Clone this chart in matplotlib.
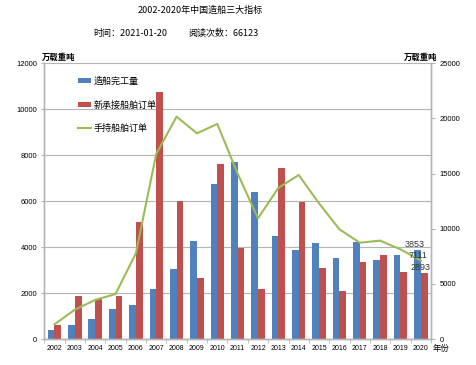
import matplotlib.pyplot as plt
import numpy as np

plt.rcParams['font.family'] = ['Liberation Sans', 'Noto Sans CJK SC', 'DejaVu Sans']

years = [str(y) for y in range(2002, 2021)]
completed = [380, 610, 860, 1290, 1480, 2160, 3030, 4280, 6750, 7690,
             6420, 4480, 3870, 4170, 3510, 4240, 3440, 3660, 3853]
new_orders = [625, 1870, 1730, 1860, 5080, 10740, 6020, 2640, 7600, 3950,
              2160, 7460, 5980, 3100, 2080, 3350, 3640, 2900, 2893]
holding = [1330, 2660, 3540, 4080, 7770, 16780, 20160, 18650, 19500, 15000,
           10950, 13700, 14870, 12300, 9950, 8730, 8920, 8130, 7111]

blue = '#4F81BD'
red = '#C0504D'
green = '#9BBB59'
grey = '#B4B4B4'
cjk = ['Noto Sans CJK SC', 'DejaVu Sans']

fig = plt.figure(figsize=(4.76, 3.65), dpi=100)
ax = fig.add_axes([0.093, 0.0712, 0.8125, 0.7554])
ax2 = ax.twinx()

x = np.arange(len(years))
w = 0.33
ax.bar(x - w / 2, completed, width=w, color=blue, label='造船完工量', zorder=2)
ax.bar(x + w / 2, new_orders, width=w, color=red, label='新承接船舶订单', zorder=2)
ax2.plot(x, holding, color=green, lw=1.5, label='手持船舶订单')

ax.set_xlim(-0.5, len(years) - 0.5)
ax.set_ylim(0, 12000)
ax.set_yticks(range(0, 12001, 2000))
ax2.set_ylim(0, 25000)
ax2.set_yticks(range(0, 25001, 5000))

ax.yaxis.grid(True, color=grey, lw=0.8, zorder=0)
ax.set_axisbelow(True)
ax.set_xticks(x)
ax.set_xticklabels(years, fontsize=5)
ax.set_xticks(np.arange(-0.5, len(years), 1), minor=True)
ax.tick_params(axis='x', which='major', length=0, pad=4)
ax.tick_params(axis='x', which='minor', length=3, color=grey, direction='out')
ax.tick_params(axis='y', labelsize=5.5, length=2, color=grey, pad=3)
ax2.tick_params(axis='y', labelsize=5.5, length=3, color=grey, pad=3)

for a in (ax, ax2):
    a.spines['top'].set_visible(False)
    for s in ('left', 'right', 'bottom'):
        a.spines[s].set_color(grey)
        a.spines[s].set_linewidth(1.0)

# data labels for 2020
ax.text(x[-1] + 0.2, completed[-1] + 60, str(completed[-1]), fontsize=6.5,
        color='#333333', ha='right', va='bottom')
ax2.text(x[-1] + 0.3, holding[-1] + 60, str(holding[-1]), fontsize=6.5,
         color='#333333', ha='right', va='bottom')
ax.text(x[-1] + 0.5, new_orders[-1] + 10, str(new_orders[-1]), fontsize=6.5,
        color='#333333', ha='right', va='bottom')

h1, l1 = ax.get_legend_handles_labels()
h2, l2 = ax2.get_legend_handles_labels()
leg = ax2.legend(h1 + h2, l1 + l2, loc='upper left', bbox_to_anchor=(0.065, 0.98),
                 frameon=False, prop={'family': cjk, 'size': 6.5},
                 handlelength=1.5, handleheight=0.5, labelspacing=1.6,
                 handletextpad=0.3)

fig.text(0.42, 0.972, '2002-2020年中国造船三大指标', fontsize=6.5,
         family=cjk, ha='center', va='center')
fig.text(0.195, 0.908, '时间：2021-01-20', fontsize=6.5, family=cjk,
         ha='left', va='center')
fig.text(0.395, 0.908, '阅读次数：66123', fontsize=6.5, family=cjk,
         ha='left', va='center')
fig.text(0.088, 0.843, '万载重吨', fontsize=6, family=cjk, weight='bold',
         ha='left', va='center')
fig.text(0.918, 0.843, '万载重吨', fontsize=6, family=cjk, weight='bold',
         ha='right', va='center')
ax.text(1.003, -0.035, '年份', transform=ax.transAxes, fontsize=6,
        family=cjk, ha='left', va='center')

fig.savefig('out.png', dpi=100)
